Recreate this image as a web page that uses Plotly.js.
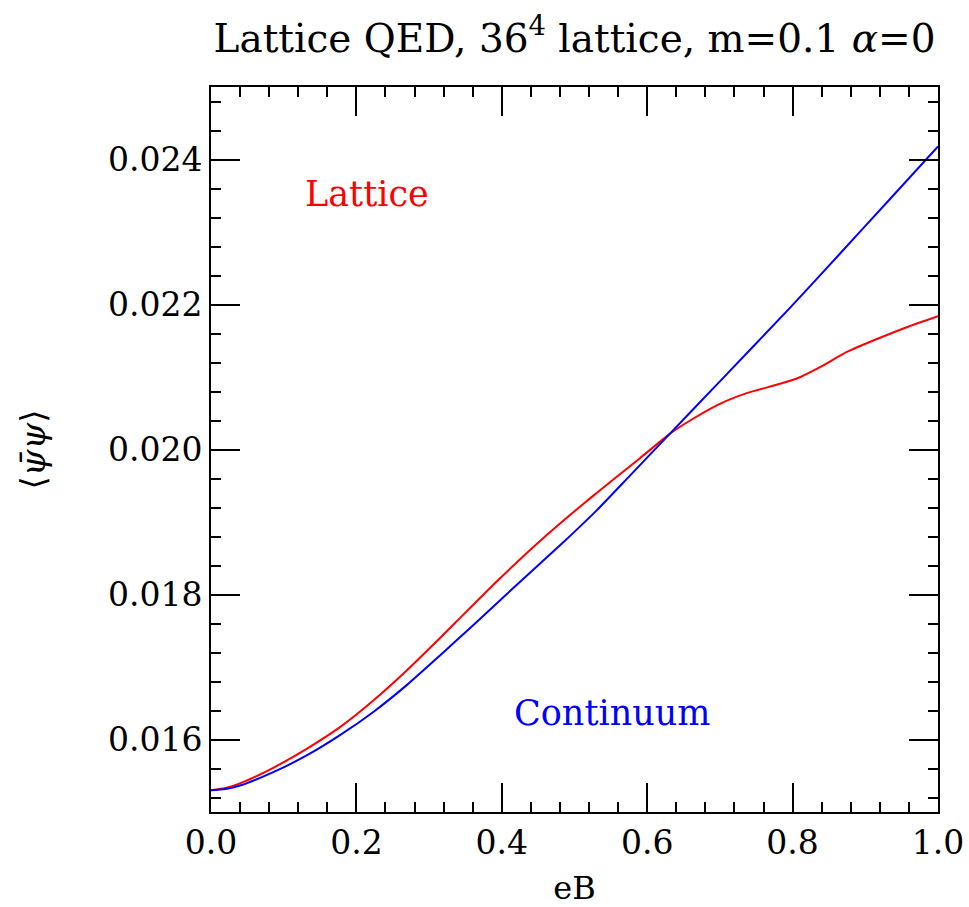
<!DOCTYPE html>
<html>
<head>
<meta charset="utf-8">
<script src="https://cdn.plot.ly/plotly-3.0.1.min.js"></script>
<style>html,body{margin:0;padding:0;background:#fff;}#chart{width:969px;height:907px;}</style>
</head>
<body>
<div id="chart"></div>
<script>
// Continuum curve (blue)
const continuumX = [0, 0.02, 0.04, 0.0857, 0.1316, 0.1774, 0.2233, 0.2692, 0.315, 0.361, 0.4158, 0.4846, 0.5305, 0.5763, 0.631, 0.70, 0.796, 0.865, 0.934, 1.0];
const continuumY = [0.01530, 0.015318, 0.015365, 0.01555, 0.01578, 0.01606, 0.01638, 0.01675, 0.01716, 0.01758, 0.01809, 0.01872, 0.01916, 0.01964, 0.020216, 0.02094, 0.02195, 0.02270, 0.023455, 0.024179];
// Lattice curve (red)
const latticeX = [0, 0.02, 0.0399, 0.0857, 0.1316, 0.1774, 0.2233, 0.2692, 0.315, 0.338, 0.393, 0.4618, 0.517, 0.5305, 0.5763, 0.590, 0.631, 0.659, 0.700, 0.737, 0.7827, 0.810, 0.8377, 0.874, 0.911, 0.957, 1.0];
const latticeY = [0.01530, 0.015330, 0.015395, 0.015610, 0.015871, 0.016170, 0.016538, 0.016952, 0.01740, 0.01763, 0.01818, 0.01882, 0.01929, 0.01940, 0.01977, 0.01988, 0.020216, 0.020400, 0.020630, 0.020777, 0.020906, 0.020997, 0.021135, 0.021342, 0.021503, 0.021687, 0.021839];

const titleText = 'Lattice QED, 36<sup>4</sup> lattice, m=0.1 <i>α</i>=0';
const xTitle = 'eB';
const yTitle = '⟨<i>ψ̄ψ</i>⟩';
const labelLattice = 'Lattice';
const labelContinuum = 'Continuum';

const FONT = 'DejaVu Serif';

const traces = [
  {x: latticeX, y: latticeY, mode: 'lines', line: {color: '#ff0000', width: 2, shape: 'spline', smoothing: 0.6}, name: labelLattice, hoverinfo: 'skip'},
  {x: continuumX, y: continuumY, mode: 'lines', line: {color: '#0000ff', width: 2, shape: 'spline', smoothing: 0.6}, name: labelContinuum, hoverinfo: 'skip'}
];

const axisCommon = {
  showgrid: false, zeroline: false, showline: true, linecolor: '#000', linewidth: 2,
  mirror: 'allticks', ticks: 'inside', ticklen: 29, tickwidth: 2, tickcolor: '#000',
  tickfont: {family: FONT, size: 33, color: '#000'}
};

const layout = {
  width: 969, height: 907,
  margin: {l: 211, r: 31, t: 87, b: 95},
  paper_bgcolor: '#fff', plot_bgcolor: '#fff',
  showlegend: false,
  title: {text: titleText, x: 0.5, xref: 'paper', y: 0.958, yref: 'container', yanchor: 'middle', font: {family: FONT, size: 39, color: '#000'}},
  xaxis: Object.assign({}, axisCommon, {
    range: [0, 1], dtick: 0.2, tick0: 0, tickformat: '.1f',
    minor: {dtick: 0.04, tick0: 0, ticks: 'inside', ticklen: 10, tickwidth: 2, tickcolor: '#000'},
    title: {text: xTitle, font: {family: FONT, size: 32, color: '#000'}, standoff: 22}
  }),
  yaxis: Object.assign({}, axisCommon, {
    range: [0.015, 0.025], dtick: 0.002, tick0: 0, tickformat: '.3f',
    minor: {dtick: 0.0004, tick0: 0, ticks: 'inside', ticklen: 10, tickwidth: 2, tickcolor: '#000'},
    title: {text: yTitle, font: {family: FONT, size: 34, color: '#000'}, standoff: 52}
  }),
  annotations: [
    {x: 0.1265, y: 0.02353, xref: 'x', yref: 'y', text: labelLattice, showarrow: false, xanchor: 'left', yanchor: 'middle', font: {family: FONT, size: 35, color: '#ff0000'}},
    {x: 0.414, y: 0.016372, xref: 'x', yref: 'y', text: labelContinuum, showarrow: false, xanchor: 'left', yanchor: 'middle', font: {family: FONT, size: 35, color: '#0000ff'}}
  ]
};

Plotly.newPlot('chart', traces, layout, {staticPlot: true, displayModeBar: false});
</script>
</body>
</html>
